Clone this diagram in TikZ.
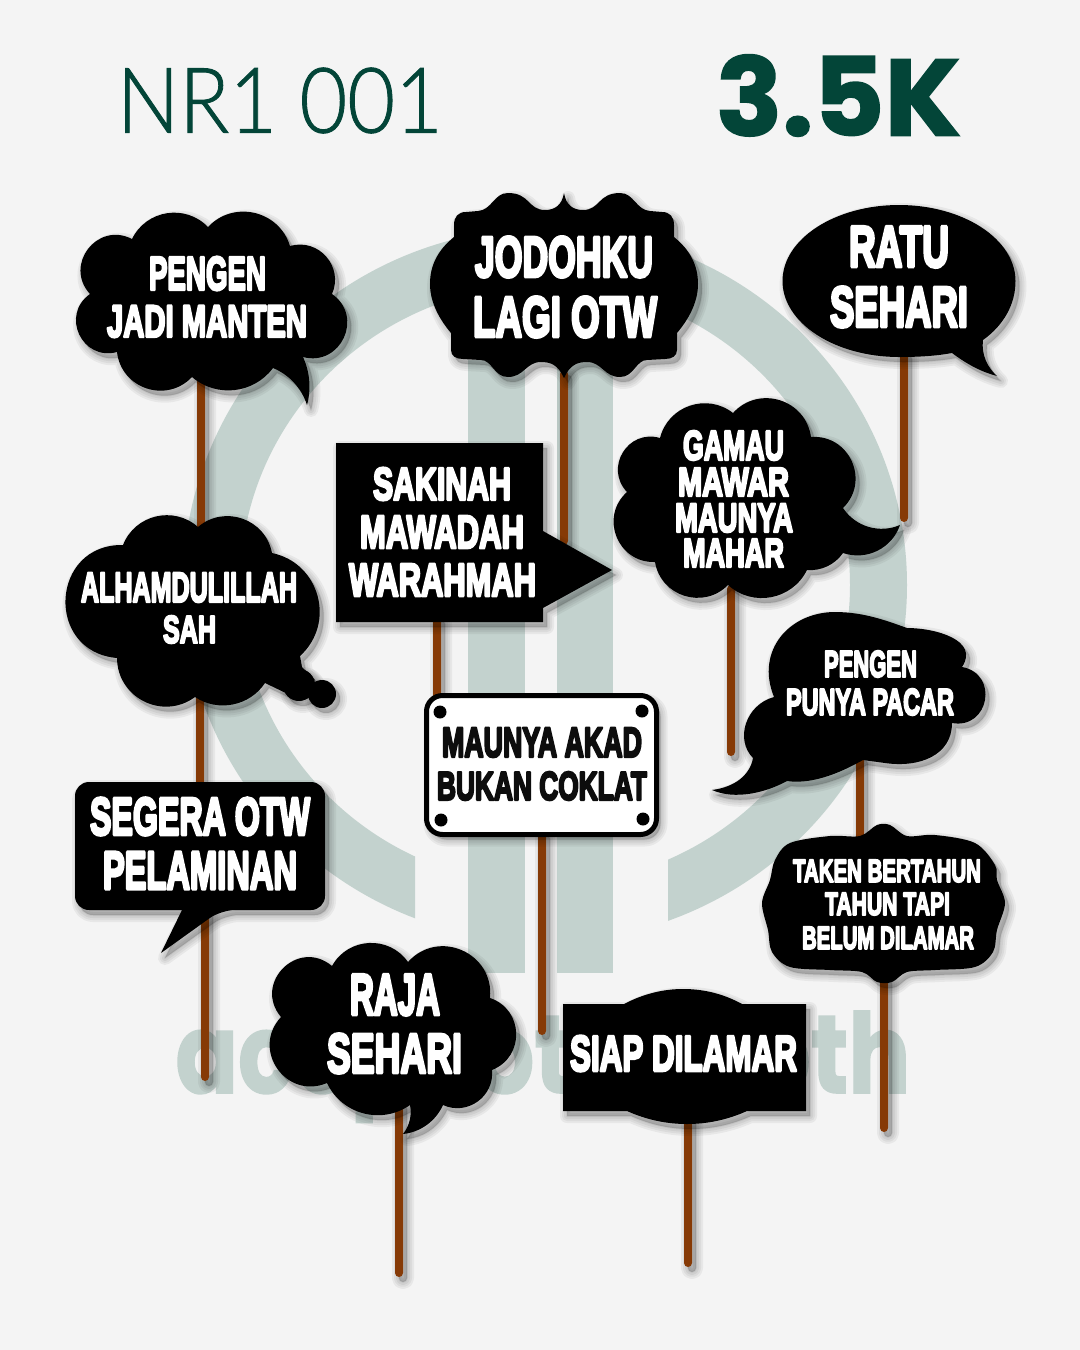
\documentclass[tikz,border=0pt]{standalone}
\usepackage{fontspec}
\usepackage{graphicx}
\usepackage{xcolor}
\usepackage{tikz}
\usetikzlibrary{positioning}

\newfontfamily\signfont{Liberation Sans}[BoldFeatures={FakeBold=6}]
\newfontfamily\headfont{Poppins}[BoldFeatures={FakeBold=1.5}]
\newfontfamily\thinfont{Lato Light}[FakeBold=1]

\definecolor{paper}{HTML}{F4F4F4}
\definecolor{wmark}{HTML}{C3D2CE}
\definecolor{wood}{HTML}{863A06}
\definecolor{heading}{HTML}{034538}

\newlength{\pxu}
\setlength{\pxu}{.5pt}

% one line of text squeezed into its box: name, x1, x2, y1, y2
\newcommand{\signline}[7][signtxt]{%
  \node[#1] (#2) at ({(#3+#4)/2},{(#5+#6)/2})
  {\resizebox{\dimexpr #4\pxu-#3\pxu\relax}{\dimexpr #6\pxu-#5\pxu\relax}{\special{pdf:code 1 j 1 J}\signfont\bfseries #7}};}
% stick: x, top, bottom
\newcommand{\stick}[3]{\fill[woodstick] ({#1-4},#2) rectangle ({#1+4},#3);}

\begin{document}
\begin{tikzpicture}[x=.5pt,y=-.5pt,
  signtxt/.style={inner sep=0pt,outer sep=0pt,text=white},
  darktxt/.style={inner sep=0pt,outer sep=0pt,text=black!95},
  shadowlayer/.style={preaction={draw=black,fill=black,line width=#1,line join=round,opacity=.05,
      transform canvas={shift={(2pt,-2.5pt)}}}},
  softshadow/.style={shadowlayer=7pt,shadowlayer=5pt,shadowlayer=3pt,shadowlayer=1pt},
  signshape/.style={fill=black,softshadow},
  woodstick/.style={fill=wood,rounded corners=2pt,softshadow},
  bl/.style={bend left=#1,looseness=2/3*tan(#1/2)/sin(#1)/.3915},
  br/.style={bend right=#1,looseness=2/3*tan(#1/2)/sin(#1)/.3915}]

  \fill[paper] (0,0) rectangle (1080,1350);
  \useasboundingbox (0,0) rectangle (1080,1350);

  % logo behind everything
  \begin{scope}
    \clip (150,200) -- (940,200) -- (940,960) -- (668,960) -- (668,700) -- (415,700) -- (415,960) -- (150,960) -- cycle;
    \fill[wmark,even odd rule] (545,585) ellipse [x radius=362,y radius=357] (545,585) ellipse [x radius=305,y radius=300];
  \end{scope}
  \fill[wmark] (468,360) rectangle (525,973);
  \fill[wmark] (557,360) rectangle (613,973);
  \node[inner sep=0pt,anchor=base west,text=wmark] (wmtext) at (175,1093)
  {\resizebox{735\pxu}{82\pxu}{\headfont\bfseries acephotobooth}};

  % heading
  \node[signtxt,text=heading] (code) at (280,100.5)
  {\resizebox{326\pxu}{65\pxu}{\thinfont NR1 001}};
  \node[signtxt,text=heading] (price) at (838.5,95.5)
  {\resizebox{245\pxu}{81\pxu}{\headfont\bfseries 3.5K}};

  % pengen jadi manten
  \stick{201}{370}{540}
  \path[signshape] (208,227) to[bl=60] (290,246) to[bl=65] (332,294) to[bl=80] (303,357)
  to[bl=20] (307,405) to[br=25] (273,368) to[bl=47] (192,377) to[bl=65] (117,352)
  to[bl=80] (90,294) to[bl=80] (132,239) to[bl=55] (208,227) -- cycle;
  \signline{pengena}{149}{266}{257}{290}{PENGEN}
  \signline{pengenb}{107}{307}{306}{337}{JADI MANTEN}

  % jodohku
  \stick{564}{370}{545}
  \path[signshape] (564,193) .. controls (566,205) and (573,210) .. (583,210)
  .. controls (600,210) and (598,193) .. (620,193)
  .. controls (634,193) and (636,210) .. (650,211) -- (662,212)
  .. controls (670,212) and (674,217) .. (674,225) -- (674,237)
  .. controls (690,250) and (698,265) .. (698,284)
  .. controls (698,303) and (688,320) .. (677,333) -- (677,350)
  .. controls (677,356) and (672,359) .. (665,359) -- (647,360)
  .. controls (636,360) and (634,377) .. (620,377)
  .. controls (604,377) and (602,362) .. (587,362)
  .. controls (577,362) and (570,365) .. (564,378)
  .. controls (558,365) and (551,362) .. (541,362)
  .. controls (526,362) and (524,377) .. (508,377)
  .. controls (494,377) and (492,360) .. (481,360) -- (463,359)
  .. controls (456,359) and (451,356) .. (451,350) -- (451,333)
  .. controls (440,320) and (430,303) .. (430,284)
  .. controls (430,265) and (438,250) .. (454,237) -- (454,225)
  .. controls (454,217) and (458,212) .. (466,212) -- (478,211)
  .. controls (492,210) and (494,193) .. (508,193)
  .. controls (530,193) and (528,210) .. (545,210)
  .. controls (555,210) and (562,205) .. (564,193) -- cycle;
  \signline{jodoa}{475}{653}{237}{277}{JODOHKU}
  \signline{jodob}{473}{657}{297}{337}{LAGI OTW}

  % ratu
  \stick{904}{350}{522}
  \path[signshape] (983,340) .. controls (1004,325) and (1015.5,304) .. (1015.5,281)
  .. controls (1015.5,239) and (963,205) .. (899,205)
  .. controls (835,205) and (782.5,239) .. (782.5,281)
  .. controls (782.5,323) and (835,357) .. (899,357)
  .. controls (918,357) and (936,356) .. (952,353)
  .. controls (968,365) and (982,372) .. (997,376)
  .. controls (988,368) and (981,355) .. (983,340) -- cycle;
  \signline{ratua}{849}{949}{227}{267}{RATU}
  \signline{ratub}{830}{968}{287}{327}{SEHARI}

  % gamau
  \stick{731}{585}{756}
  \path[signshape] (733,413) to[bl=65] (811,437) to[bl=70] (843,508) to[br=40] (900,525)
  to[bl=45] (843,553) to[bl=30] (807,570) to[bl=53] (728,585) to[bl=63] (655,562)
  to[bl=70] (627,492) to[bl=75] (660,438) to[bl=57] (733,413) -- cycle;
  \signline{gamaua}{683}{784}{431}{460}{GAMAU}
  \signline{gamaub}{678}{789}{468}{496}{MAWAR}
  \signline{gamauc}{675}{793}{504}{532}{MAUNYA}
  \signline{gamaud}{683}{784}{539}{567}{MAHAR}

  % punya pacar
  \stick{860}{755}{845}
  \path[signshape] (962,667) to[bl=90] (952,723)
  .. controls (952,755) and (920,768) .. (885,763) -- (863,760)
  .. controls (845,770) and (815,785) .. (787,781)
  .. controls (765,793) and (735,800) .. (712,790)
  .. controls (735,787) and (750,775) .. (753,758)
  .. controls (735,740) and (745,705) .. (774,697)
  .. controls (755,650) and (790,612) .. (835,612)
  .. controls (865,612) and (890,622) .. (907,628)
  .. controls (935,628) and (980,640) .. (962,667) -- cycle;
  \signline{pacara}{824}{917}{651}{677}{PENGEN}
  \signline{pacarb}{786}{954}{689}{715}{PUNYA PACAR}

  % sakinah
  \stick{437}{615}{705}
  \path[signshape] (336,443) -- (543,443) -- (543,531) -- (612,570) -- (543,608) -- (543,622) -- (336,622) -- cycle;
  \signline{sakia}{373}{511}{468}{500}{SAKINAH}
  \signline{sakib}{360}{524}{516}{548}{MAWADAH}
  \signline{sakic}{349}{536}{564}{596}{WARAHMAH}

  % alhamdulillah
  \stick{200}{690}{790}
  \path[signshape] (322,694) circle [radius=14];
  \path[signshape] (299,685) circle [radius=16];
  \path[signshape] (198,527) to[bl=60] (272,553) to[bl=63] (300,656) -- (302,667) -- (315,680) -- (290,695) -- (265,683)
  to[bl=45] (195,697) to[bl=63] (117,658) to[bl=88] (123,545) to[bl=55] (198,527) -- cycle;
  \signline{alhama}{81}{297}{573}{602}{ALHAMDULILLAH}
  \signline{alhamb}{163}{216}{616}{643}{SAH}

  % segera
  \stick{205}{905}{1081}
  \path[signshape,rounded corners=7pt] (75,782) -- (325,782) -- (325,910) -- (221,910)
  [sharp corners] -- (161,953) -- (182,910) [rounded corners=7pt] -- (75,910) -- cycle;
  \signline{segea}{90}{310}{798}{835}{SEGERA OTW}
  \signline{segeb}{103}{297}{852}{889}{PELAMINAN}

  % maunya akad
  \stick{542}{830}{1035}
  \path[signshape,draw=black,fill=white,line width=2.5pt,rounded corners=8pt] (426.5,695.5) rectangle (656.5,834.5);
  \foreach \hx/\hy in {440/712,642/711,441/820,643/819}
    \fill (\hx,\hy) circle [radius=6.5];
  \signline[darktxt]{akada}{442}{642}{728}{757}{MAUNYA AKAD}
  \signline[darktxt]{akadb}{437}{647}{772}{800}{BUKAN COKLAT}

  % taken
  \stick{884}{975}{1132}
  \path[signshape] plot[smooth cycle,tension=.55] coordinates {(877,825) (890,825) (907,836) (935,835)
    (975,843) (995,865) (997,880) (1005,903) (997,930) (993,952) (975,967) (935,970) (907,972)
    (892,982) (877,982) (862,972) (830,970) (790,967) (772,952) (768,930) (762,903) (770,880)
    (775,860) (790,843) (830,836) (860,836)};
  \signline{takena}{793}{981}{860}{882}{TAKEN BERTAHUN}
  \signline{takenb}{825}{950}{893}{915}{TAHUN TAPI}
  \signline{takenc}{802}{974}{927}{949}{BELUM DILAMAR}

  % raja
  \stick{399}{1100}{1277}
  \path[signshape] (408,962) to[bl=72] (490,998) to[bl=70] (492,1070) to[bl=60] (443,1105)
  to[bl=30] (403,1134) to[br=25] (410,1105) to[bl=50] (327,1083) to[bl=78] (281,1017)
  to[bl=85] (332,966) to[bl=58] (408,962) -- cycle;
  \signline{rajaa}{350}{440}{975}{1015}{RAJA}
  \signline{rajab}{327}{462}{1034}{1073}{SEHARI}

  % siap dilamar
  \stick{688}{1115}{1267}
  \path[signshape] (563,1004) -- (624,1004) .. controls (645,993) and (665,989) .. (683,989)
  .. controls (702,989) and (722,993) .. (742,1004) -- (806,1004) -- (806,1111) -- (747,1111)
  .. controls (727,1120) and (707,1124) .. (687,1124)
  .. controls (667,1124) and (647,1120) .. (627,1111) -- (563,1111) -- cycle;
  \signline{siapa}{570}{797}{1036}{1071}{SIAP DILAMAR}

\end{tikzpicture}
\end{document}
